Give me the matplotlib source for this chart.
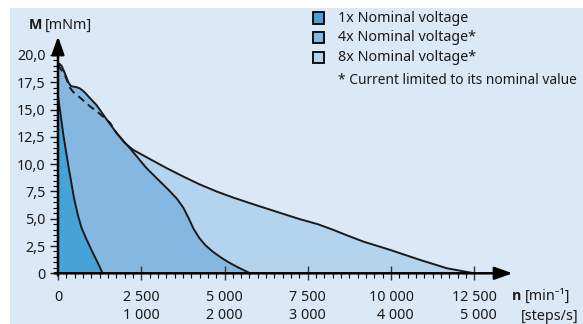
import numpy as np
import matplotlib
matplotlib.use("Agg")
import matplotlib.pyplot as plt
from matplotlib.patches import Rectangle

plt.rcParams['font.family'] = ['Noto Sans', 'DejaVu Sans']

# Speed (min^-1) / torque (mNm) limit curves
rpm_1x = [0, 80, 160, 250, 330, 400, 480, 600, 710, 850, 1010, 1180, 1340]
torque_1x = [16.2, 14.5, 12.7, 11.0, 9.5, 8.3, 6.9, 5.3, 4.15, 3.15, 2.1, 1.05, 0]

rpm_4x = [0, 40, 110, 210, 310, 390, 470, 560, 650, 740, 840, 960, 1160, 1460,
          1760, 2160, 2660, 3000, 3300, 3565, 3765, 3915, 4066, 4240, 4417, 4640,
          4868, 5100, 5369, 5770]
torque_4x = [19.0, 19.2, 19.0, 18.3, 17.5, 17.15, 17.1, 17.05, 16.95, 16.75, 16.45,
             16.05, 15.4, 14.1, 12.85, 11.45, 9.63, 8.6, 7.7, 6.85, 6.0, 5.1, 4.1,
             3.25, 2.6, 2.0, 1.5, 1.05, 0.6, 0]

rpm_8x = [0, 60, 200, 360, 460, 660, 960, 1260, 1560, 1760, 2000, 2263, 2764,
          3266, 3765, 4250, 4768, 5250, 5769, 6500, 7272, 7800, 8273, 8700,
          9174, 9976, 10877, 11679, 12500]
torque_8x = [19.1, 18.8, 18.2, 17.0, 16.6, 16.1, 15.3, 14.6, 13.8, 12.85, 11.95,
             11.3, 10.46, 9.63, 8.86, 8.15, 7.49, 6.95, 6.42, 5.7, 4.95, 4.5,
             3.97, 3.45, 2.9, 2.14, 1.22, 0.46, 0]
rpm_8x_hidden_end = 1760  # below this speed the 8x limit lies under the 4x area

rpm_ticks = [0, 2500, 5000, 7500, 10000, 12500]
rpm_tick_labels = ["0", "2 500", "5 000", "7 500", "10 000", "12 500"]
step_tick_labels = ["", "1 000", "2 000", "3 000", "4 000", "5 000"]
torque_ticks = [0, 2.5, 5.0, 7.5, 10.0, 12.5, 15.0, 17.5, 20.0]
torque_tick_labels = ["0", "2,5", "5,0", "7,5", "10,0", "12,5", "15,0", "17,5", "20,0"]

legend_labels = ["1x Nominal voltage", "4x Nominal voltage*", "8x Nominal voltage*"]
footnote = "* Current limited to its nominal value"

bg = "#dbe8f5"
c1 = "#47a2d8"
c4 = "#84b8e1"
c8 = "#b4d3ec"
ink = "#1a1a1a"

W, H = 583, 324
fig = plt.figure(figsize=(W / 100, H / 100), dpi=100)
fig.patch.set_facecolor("white")


def px(x, y):
    return (x / W, 1 - y / H)


fig.patches.append(Rectangle((10 / W, 0), 1, 1 - 8 / H, transform=fig.transFigure,
                             facecolor=bg, edgecolor="none", zorder=-10))

x0, x1 = 58, 474.3
y0, y1 = 273.3, 55
ax = fig.add_axes([x0 / W, 1 - y0 / H, (x1 - x0) / W, (y0 - y1) / H])
ax.set_xlim(0, 12500)
ax.set_ylim(0, 20)
ax.patch.set_visible(False)
for s in ax.spines.values():
    s.set_visible(False)

ax.fill_between(rpm_8x, torque_8x, 0, color=c8, lw=0, zorder=1, clip_on=False)
ax.fill_between(rpm_4x, torque_4x, 0, color=c4, lw=0, zorder=2, clip_on=False)
ax.fill_between(rpm_1x, torque_1x, 0, color=c1, lw=0, zorder=3, clip_on=False)

r8 = np.array(rpm_8x)
t8 = np.array(torque_8x)
hidden = r8 <= rpm_8x_hidden_end
visible = r8 >= rpm_8x_hidden_end
line_kw = dict(color=ink, lw=1.4, zorder=5, clip_on=False, solid_joinstyle="round")
ax.plot(r8[hidden], t8[hidden], ls=(0, (4, 2.5)), **line_kw)
ax.plot(r8[visible], t8[visible], **line_kw)
ax.plot(rpm_4x, torque_4x, **line_kw)
ax.plot(rpm_1x, torque_1x, **line_kw)

# Axes with arrow heads
arrow = dict(arrowstyle="-|>,head_length=0.9,head_width=0.32", lw=1.8, color="black",
             shrinkA=0, shrinkB=0, mutation_scale=12)
ax.annotate("", xy=(13650, 0), xytext=(-100, 0), arrowprops=arrow, annotation_clip=False, zorder=6)
ax.annotate("", xy=(0, 21.7), xytext=(0, -0.2), arrowprops=arrow, annotation_clip=False, zorder=6)

ax.set_axisbelow(False)
ax.set_xticks(rpm_ticks)
ax.set_xticks(np.arange(0, 12501, 250), minor=True)
ax.set_yticks(torque_ticks, torque_tick_labels)
ax.set_yticks(np.arange(0, 20.01, 0.5), minor=True)
ax.set_xticklabels([])
ax.tick_params(axis="x", which="major", direction="inout", length=10, width=1.0, color="#333333")
ax.tick_params(axis="x", which="minor", direction="out", length=3.5, width=0.8)
ax.tick_params(axis="y", which="major", direction="out", length=6, width=1.0, pad=3.0,
               labelsize=10.3, colors=ink)
ax.tick_params(axis="y", which="minor", direction="out", length=3.5, width=0.8)

# Two-row x tick labels: speed and step rate
for r, a, b in zip(rpm_ticks, rpm_tick_labels, step_tick_labels):
    txt = a if not b else a + "\n" + b
    ax.annotate(txt, xy=(r, 0), xytext=(0, -12), textcoords="offset points",
                ha="center", va="top", multialignment="right", fontsize=10.3,
                linespacing=1.3, color=ink, annotation_clip=False)

fs = 10.3
bold = dict(fontsize=fs, fontweight="bold", family=["Open Sans", "DejaVu Sans"], color=ink)
fig.text(*px(29, 25), "M", va="center", ha="left", **bold)
fig.text(*px(45, 25), "[mNm]", fontsize=fs, va="center", ha="left", color=ink)
fig.text(*px(512, 296), "n", va="center", ha="left", **bold)
fig.text(*px(525, 296), "[min\u207b\u00b9]", fontsize=fs, va="center", ha="left", color=ink)
fig.text(*px(521, 316), "[steps/s]", fontsize=fs, va="center", ha="left", color=ink)

# Legend
for i, (lab, col) in enumerate(zip(legend_labels, [c1, c4, c8])):
    yc = 18 + i * 19.7
    fig.patches.append(Rectangle(px(312.5, yc + 5.5), 11 / W, 11 / H, transform=fig.transFigure,
                                 facecolor=col, edgecolor="black", lw=1.3))
    fig.text(*px(338, yc), lab, fontsize=fs, va="center", ha="left", color=ink)
fig.text(*px(338, 80), footnote, fontsize=9.9, va="center", ha="left", color=ink)

fig.savefig("out.png", dpi=100, facecolor=fig.get_facecolor())
